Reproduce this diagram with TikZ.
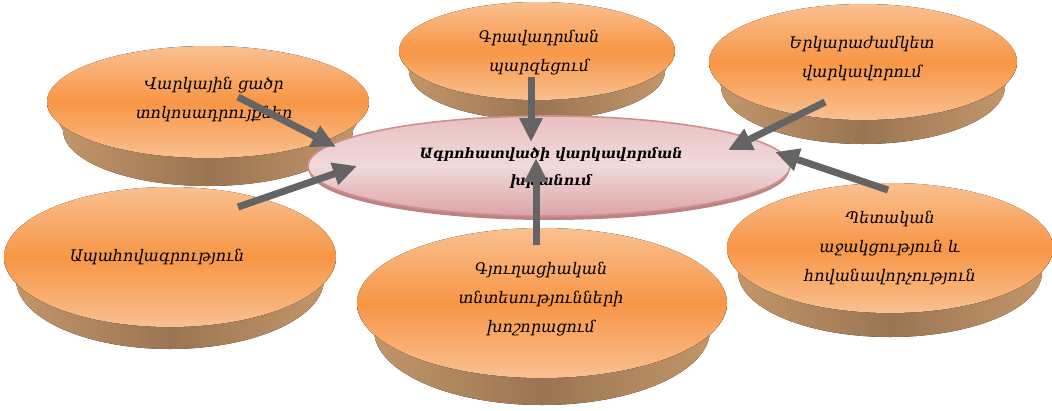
\documentclass[tikz,border=0pt]{standalone}
\usepackage{fontspec}
\setmainfont{DejaVu Serif}
\usetikzlibrary{arrows.meta}
\definecolor{facemid}{HTML}{F79646}
\definecolor{faceedge}{HTML}{FAC090}
\definecolor{sidedark}{HTML}{9A7553}
\definecolor{sidelight}{HTML}{C6986B}
\definecolor{arrowgray}{HTML}{646464}
\definecolor{pinklight}{HTML}{F1DADA}
\definecolor{pinktop}{HTML}{E8C0C0}
\definecolor{pinkdark}{HTML}{DCA4A5}
\definecolor{pinkborder}{HTML}{D28E8D}
\definecolor{pinkedge}{HTML}{B98483}
% cx cy rx ry thickness bottom-rx
\newcommand\mydisk[6]{%
  \fill[left color=sidelight, right color=sidelight, middle color=sidedark]
    (#1-#3,#2) -- (#1-#6,#2+#5) arc[start angle=180,end angle=0,x radius=#6,y radius=#4]
    -- (#1+#3,#2) arc[start angle=0,end angle=180,x radius=#3,y radius=#4] -- cycle;
  \fill[top color=faceedge, bottom color=faceedge, middle color=facemid]
    (#1,#2) ellipse[x radius=#3,y radius=#4];
}
\tikzset{
  lbl/.style={align=center, font=\fontsize{16}{29}\selectfont\itshape, text=black, inner sep=0pt},
  clbl/.style={align=center, font=\fontsize{14.2}{27}\selectfont\bfseries\itshape, text=black, inner sep=0pt},
  bigarrow/.style={draw=arrowgray, line width=7pt, -{Triangle[length=24pt,width=22pt]}}
}
\begin{document}
\begin{tikzpicture}[x=1pt,y=-1pt]
\useasboundingbox (0,0) rectangle (1052,410);
% back disks
\mydisk{170}{257}{166}{70}{22}{154}
\mydisk{542}{303}{185}{75}{27}{168}
\mydisk{890}{248}{163}{65}{24}{152}
% upper disks
\mydisk{208}{102}{161}{56}{28}{145}
\mydisk{537}{51}{138}{49}{20}{128}
\mydisk{863}{62}{154}{58}{24}{142}
% centre ellipse
\fill[pinkedge] (549,170) ellipse[x radius=240,y radius=50];
\fill[top color=pinktop, bottom color=pinkdark, middle color=pinklight, draw=pinkborder, line width=1.6pt]
  (549,166) ellipse[x radius=241,y radius=50];
% labels
\node[lbl] (t1) at (214,99) {Վարկային ցածր\\տոկոսադրույքներ};
\node[lbl] (t2) at (539,53) {Գրավադրման\\պարզեցում};
\node[lbl] (t3) at (862,58) {Երկարաժամկետ\\վարկավորում};
\node[clbl] (c) at (551,168) {Ագրոհատվածի վարկավորման\\խթանում};
\node[lbl] (t5) at (157,257) {Ապահովագրություն};
\node[lbl] (t6) at (541,299) {Գյուղացիական\\տնտեսությունների\\խոշորացում};
\node[lbl] (t7) at (890,248) {Պետական\\աջակցություն և\\հովանավորչություն};
% arrow ends
\coordinate (a1s) at (238,97);  \coordinate (a1e) at (336,147);
\coordinate (a2s) at (238,207); \coordinate (a2e) at (357,166);
\coordinate (a3s) at (531,77);  \coordinate (a3e) at (531,142);
\coordinate (a4s) at (536,245); \coordinate (a4e) at (536,158);
\coordinate (a5s) at (825,102); \coordinate (a5e) at (728,150);
\coordinate (a6s) at (888,190); \coordinate (a6e) at (775,152);
\draw[bigarrow] (a1s) -- (a1e);
\draw[bigarrow] (a2s) -- (a2e);
\draw[bigarrow] (a3s) -- (a3e);
\draw[bigarrow] (a4s) -- (a4e);
\draw[bigarrow] (a5s) -- (a5e);
\draw[bigarrow] (a6s) -- (a6e);
\end{tikzpicture}
\end{document}
